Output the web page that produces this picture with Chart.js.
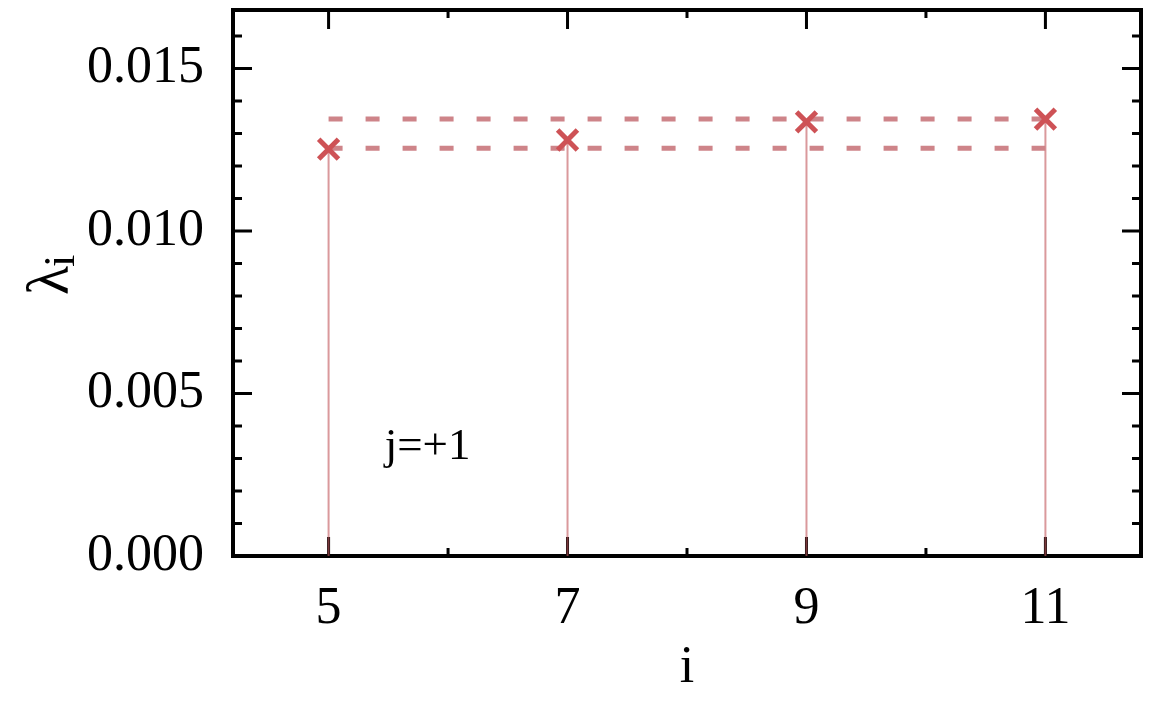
<!DOCTYPE html>
<html>
<head>
<meta charset="utf-8">
<script src="https://cdn.jsdelivr.net/npm/chart.js@4/dist/chart.umd.min.js"></script>
<style>
  html, body { margin: 0; padding: 0; background: #fff; }
  #wrap { width: 1152px; height: 720px; position: relative; }
</style>
</head>
<body>
<div id="wrap"><canvas id="myChart"></canvas></div>
<script>
// values
var iValues = [5, 7, 9, 11];
var lambdaValues = [0.01252, 0.01280, 0.01336, 0.01344];
var lowerBound = 0.012545;
var upperBound = 0.013446;
var xTickValues = [5, 7, 9, 11];
var xMinorValues = [6, 8, 10];
var yTickValues = [0, 0.005, 0.010, 0.015];
var yMinorValues = [0.001, 0.002, 0.003, 0.004, 0.006, 0.007, 0.008, 0.009, 0.011, 0.012, 0.013, 0.014, 0.016];
var annotationText = 'j=+1';

var serif = "'Liberation Serif', 'Times New Roman', serif";

// stems: base -> value, broken by null gaps
var stemData = [];
iValues.forEach(function(x, k) {
  stemData.push({x: x, y: 0});
  stemData.push({x: x, y: lambdaValues[k]});
  stemData.push({x: x, y: null});
});

function noPad(scale) {
  scale.paddingTop = 0;
  scale.paddingBottom = 0;
  scale.paddingLeft = 0;
  scale.paddingRight = 0;
}

var frameTicks = {
  id: 'frameTicks',
  beforeDatasetsDraw: function(chart) {
    var ctx = chart.ctx;
    var a = chart.chartArea;
    var xs = chart.scales.x, ys = chart.scales.y;
    ctx.save();
    ctx.strokeStyle = '#000';
    ctx.lineWidth = 3;
    ctx.lineCap = 'butt';
    function vt(v, len) {
      var p = xs.getPixelForValue(v);
      ctx.beginPath();
      ctx.moveTo(p, a.bottom); ctx.lineTo(p, a.bottom - len);
      ctx.moveTo(p, a.top); ctx.lineTo(p, a.top + len);
      ctx.stroke();
    }
    function ht(v, len) {
      var p = ys.getPixelForValue(v);
      ctx.beginPath();
      ctx.moveTo(a.left, p); ctx.lineTo(a.left + len, p);
      ctx.moveTo(a.right, p); ctx.lineTo(a.right - len, p);
      ctx.stroke();
    }
    xTickValues.forEach(function(v) { vt(v, 19); });
    xMinorValues.forEach(function(v) { vt(v, 8); });
    yTickValues.forEach(function(v) { ht(v, 19); });
    yMinorValues.forEach(function(v) { ht(v, 9); });
    ctx.lineWidth = 4;
    ctx.strokeRect(a.left, a.top, a.right - a.left, a.bottom - a.top);
    ctx.restore();
  },
  afterDraw: function(chart) {
    var ctx = chart.ctx;
    var xs = chart.scales.x, ys = chart.scales.y;
    ctx.save();
    ctx.fillStyle = '#000';
    // annotation
    ctx.font = '45px ' + serif;
    ctx.textBaseline = 'alphabetic';
    ctx.textAlign = 'left';
    ctx.fillText(annotationText, xs.getPixelForValue(5.47), ys.getPixelForValue(0.00297));
    // y axis title with subscript
    ctx.translate(68, 295);
    ctx.rotate(-Math.PI / 2);
    ctx.font = '60px ' + serif;
    ctx.fillText('λ', 0, 0);
    var w = ctx.measureText('λ').width;
    ctx.font = '44px ' + serif;
    ctx.fillText('i', w - 1, 6);
    ctx.restore();
  }
};

const data = {
  datasets: [
    {
      label: 'crosses',
      data: iValues.map(function(x, k) { return {x: x, y: lambdaValues[k]}; }),
      showLine: false,
      pointStyle: 'crossRot',
      pointRadius: 14,
      pointBorderWidth: 5,
      borderColor: 'rgb(206,82,86)',
      backgroundColor: 'rgb(206,82,86)',
      order: 0
    },
    {
      label: 'upper',
      data: [{x: iValues[0], y: upperBound}, {x: iValues[iValues.length - 1], y: upperBound}],
      showLine: true,
      pointRadius: 0,
      borderWidth: 5,
      borderDash: [14, 23],
      borderCapStyle: 'butt',
      borderColor: 'rgb(206,132,137)',
      order: 1
    },
    {
      label: 'lower',
      data: [{x: iValues[0], y: lowerBound}, {x: iValues[iValues.length - 1], y: lowerBound}],
      showLine: true,
      pointRadius: 0,
      borderWidth: 5,
      borderDash: [14, 23],
      borderCapStyle: 'butt',
      borderColor: 'rgb(206,132,137)',
      order: 1
    },
    {
      label: 'stems',
      data: stemData,
      showLine: true,
      spanGaps: false,
      pointRadius: 0,
      borderWidth: 2,
      borderColor: 'rgba(196,90,96,0.62)',
      order: 2
    }
  ]
};

const config = {
  type: 'scatter',
  data: data,
  options: {
    responsive: true,
    maintainAspectRatio: false,
    animation: false,
    layout: { autoPadding: false, padding: { left: 0, right: 11, top: 10, bottom: 0 } },
    plugins: {
      legend: { display: false },
      tooltip: { enabled: false }
    },
    scales: {
      x: {
        type: 'linear',
        min: 4.2,
        max: 11.8,
        afterBuildTicks: function(scale) {
          scale.ticks = xTickValues.map(function(v) { return {value: v}; });
        },
        afterFit: function(scale) { scale.height = 164; noPad(scale); },
        grid: { display: false, drawTicks: false },
        border: { display: false },
        ticks: {
          padding: 22,
          color: '#000',
          font: { family: serif, size: 52 },
          maxRotation: 0,
          callback: function(v) { return String(v); }
        },
        title: {
          display: true,
          text: 'i',
          color: '#000',
          font: { family: serif, size: 52 },
          padding: { top: 0, bottom: 20 }
        }
      },
      y: {
        type: 'linear',
        min: 0,
        max: 0.0168,
        afterBuildTicks: function(scale) {
          scale.ticks = yTickValues.map(function(v) { return {value: v}; });
        },
        afterFit: function(scale) { scale.width = 233; noPad(scale); },
        grid: { display: false, drawTicks: false },
        border: { display: false },
        ticks: {
          padding: 29,
          color: '#000',
          font: { family: serif, size: 52 },
          callback: function(v) { return v.toFixed(3); }
        }
      }
    }
  },
  plugins: [frameTicks]
};

new Chart(document.getElementById('myChart'), config);
</script>
</body>
</html>
